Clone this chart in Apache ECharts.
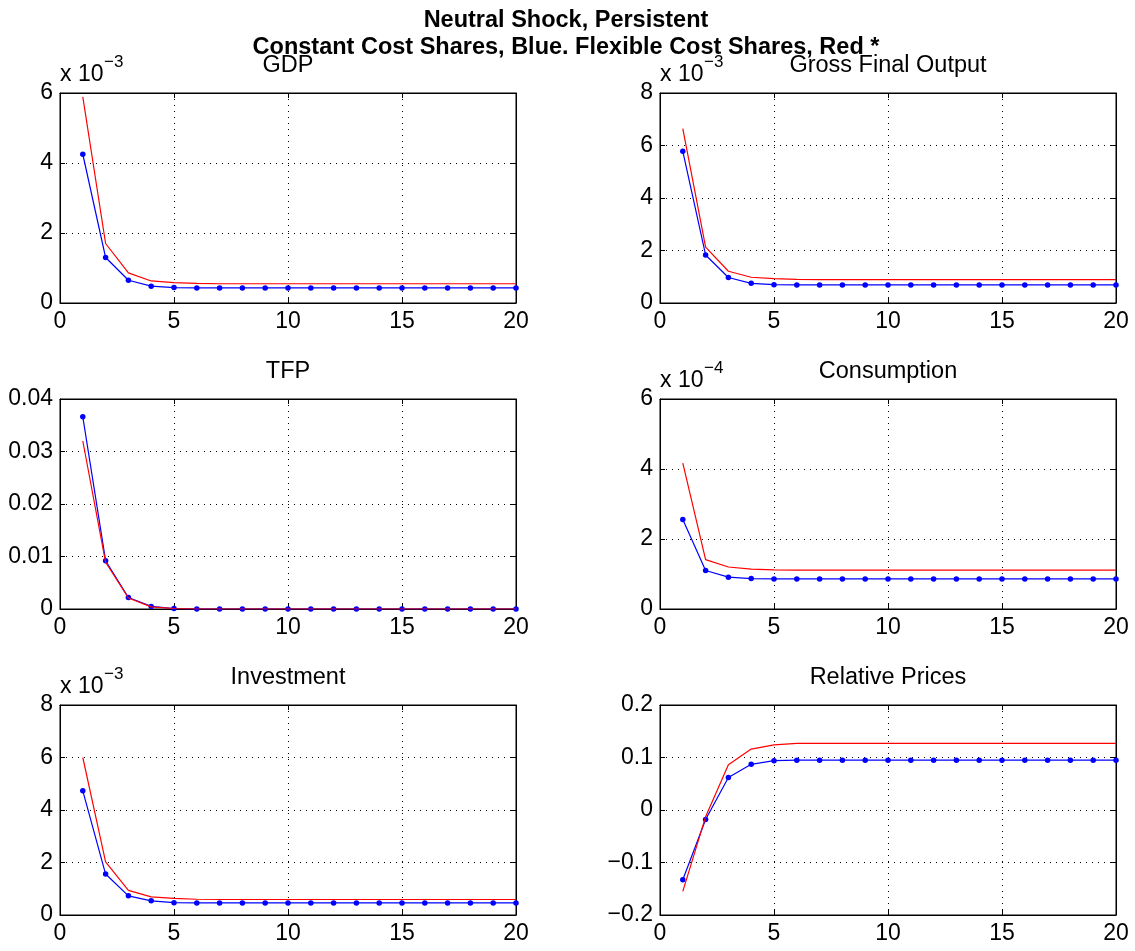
<!DOCTYPE html>
<html>
<head>
<meta charset="utf-8">
<script src="https://cdn.jsdelivr.net/npm/echarts@6/dist/echarts.min.js"></script>
<style>
  html, body { margin: 0; padding: 0; background: #fff; }
  #chart { width: 1135px; height: 951px; }
</style>
</head>
<body>
<div id="chart"></div>
<script>
// Impulse responses over 20 periods: constant cost shares (blue) vs flexible cost shares (red)
const periods = [1, 2, 3, 4, 5, 6, 7, 8, 9, 10, 11, 12, 13, 14, 15, 16, 17, 18, 19, 20];

// GDP, in units of 10^-3
const gdpConstant = [4.25, 1.30, 0.65, 0.48, 0.44, 0.43, 0.43, 0.43, 0.43, 0.43, 0.43, 0.43, 0.43, 0.43, 0.43, 0.43, 0.43, 0.43, 0.43, 0.43];
const gdpFlexible = [5.89, 1.70, 0.86, 0.63, 0.58, 0.56, 0.55, 0.55, 0.55, 0.55, 0.55, 0.55, 0.55, 0.55, 0.55, 0.55, 0.55, 0.55, 0.55, 0.55];

// Gross final output, in units of 10^-3
const gfoConstant = [5.78, 1.83, 0.97, 0.75, 0.70, 0.69, 0.69, 0.69, 0.69, 0.69, 0.69, 0.69, 0.69, 0.69, 0.69, 0.69, 0.69, 0.69, 0.69, 0.69];
const gfoFlexible = [6.64, 2.13, 1.21, 0.98, 0.93, 0.90, 0.89, 0.89, 0.89, 0.89, 0.89, 0.89, 0.89, 0.89, 0.89, 0.89, 0.89, 0.89, 0.89, 0.89];

// TFP
const tfpConstant = [0.0366, 0.0092, 0.0022, 0.0005, 0.0001, 0, 0, 0, 0, 0, 0, 0, 0, 0, 0, 0, 0, 0, 0, 0];
const tfpFlexible = [0.0320, 0.0089, 0.0021, 0.0004, 0.0001, 0, 0, 0, 0, 0, 0, 0, 0, 0, 0, 0, 0, 0, 0, 0];

// Consumption, in units of 10^-4
const consConstant = [2.56, 1.10, 0.91, 0.87, 0.86, 0.86, 0.86, 0.86, 0.86, 0.86, 0.86, 0.86, 0.86, 0.86, 0.86, 0.86, 0.86, 0.86, 0.86, 0.86];
const consFlexible = [4.17, 1.41, 1.20, 1.14, 1.12, 1.11, 1.11, 1.11, 1.11, 1.11, 1.11, 1.11, 1.11, 1.11, 1.11, 1.11, 1.11, 1.11, 1.11, 1.11];

// Investment, in units of 10^-3
const invConstant = [4.73, 1.56, 0.73, 0.54, 0.47, 0.46, 0.46, 0.46, 0.46, 0.46, 0.46, 0.46, 0.46, 0.46, 0.46, 0.46, 0.46, 0.46, 0.46, 0.46];
const invFlexible = [6.00, 2.02, 0.94, 0.69, 0.63, 0.60, 0.59, 0.59, 0.59, 0.59, 0.59, 0.59, 0.59, 0.59, 0.59, 0.59, 0.59, 0.59, 0.59, 0.59];

// Relative prices
const priceConstant = [-0.133, -0.018, 0.062, 0.087, 0.094, 0.095, 0.095, 0.095, 0.095, 0.095, 0.095, 0.095, 0.095, 0.095, 0.095, 0.095, 0.095, 0.095, 0.095, 0.095];
const priceFlexible = [-0.155, -0.013, 0.086, 0.116, 0.124, 0.127, 0.127, 0.127, 0.127, 0.127, 0.127, 0.127, 0.127, 0.127, 0.127, 0.127, 0.127, 0.127, 0.127, 0.127];

// Axis settings per panel
const panelTitles = ['GDP', 'Gross Final Output', 'TFP', 'Consumption', 'Investment', 'Relative Prices'];
const panelExponents = ['\u22123', '\u22123', null, '\u22124', '\u22123', null];
const yMins = [0, 0, 0, 0, 0, -0.2];
const yMaxs = [6, 8, 0.04, 6, 8, 0.2];
const yIntervals = [2, 2, 0.01, 2, 2, 0.1];
const xMin = 0, xMax = 20, xInterval = 5;

const constantSeries = [gdpConstant, gfoConstant, tfpConstant, consConstant, invConstant, priceConstant];
const flexibleSeries = [gdpFlexible, gfoFlexible, tfpFlexible, consFlexible, invFlexible, priceFlexible];

// Layout of the 3x2 panel grid
const FONT = '"Liberation Sans", Arial, Helvetica, sans-serif';
const TICK_SIZE = 23;
const TITLE_SIZE = 23.5;
const colLeft = [60, 660];
const rowTop = [93, 399, 705];
const boxW = 456, boxH = 210;

const grids = [], xAxes = [], yAxes = [], series = [], graphics = [];
const minusFmt = v => {
  const r = Math.round(v * 10000) / 10000;
  return String(r).replace('-', '\u2212');
};

panelTitles.forEach((title, i) => {
  const left = colLeft[i % 2];
  const top = rowTop[Math.floor(i / 2)];
  grids.push({ left: left, top: top, width: boxW, height: boxH, show: true,
               borderColor: '#000', borderWidth: 1, backgroundColor: '#fff', containLabel: false });

  const tick = { show: true, inside: true, length: 5, lineStyle: { color: '#000', width: 1 } };
  const grid = { show: true, lineStyle: { color: '#000', width: 1, type: [1, 5] } };

  xAxes.push({
    gridIndex: i, type: 'value', position: 'bottom', min: xMin, max: xMax, interval: xInterval,
    axisLine: { show: true, onZero: false, lineStyle: { color: '#000', width: 1 } },
    axisTick: tick,
    axisLabel: { color: '#000', fontSize: TICK_SIZE, fontFamily: FONT, margin: 7 },
    splitLine: grid
  });
  xAxes.push({
    gridIndex: i, type: 'value', position: 'top', min: xMin, max: xMax, interval: xInterval,
    axisLine: { show: true, onZero: false, lineStyle: { color: '#000', width: 1 } },
    axisTick: tick, axisLabel: { show: false }, splitLine: { show: false }
  });
  yAxes.push({
    gridIndex: i, type: 'value', position: 'left', min: yMins[i], max: yMaxs[i], interval: yIntervals[i],
    axisLine: { show: true, onZero: false, lineStyle: { color: '#000', width: 1 } },
    axisTick: tick,
    axisLabel: { color: '#000', fontSize: TICK_SIZE, fontFamily: FONT, margin: 7, formatter: minusFmt },
    splitLine: grid
  });
  yAxes.push({
    gridIndex: i, type: 'value', position: 'right', min: yMins[i], max: yMaxs[i], interval: yIntervals[i],
    axisLine: { show: true, onZero: false, lineStyle: { color: '#000', width: 1 } },
    axisTick: tick, axisLabel: { show: false }, splitLine: { show: false }
  });

  series.push({
    type: 'line', xAxisIndex: 2 * i, yAxisIndex: 2 * i,
    data: periods.map((p, k) => [p, constantSeries[i][k]]),
    symbol: 'circle', symbolSize: 5.5, showSymbol: true,
    itemStyle: { color: '#0000ff' },
    lineStyle: { color: '#0000ff', width: 1.2 },
    z: 3
  });
  series.push({
    type: 'line', xAxisIndex: 2 * i, yAxisIndex: 2 * i,
    data: periods.map((p, k) => [p, flexibleSeries[i][k]]),
    symbol: 'none',
    lineStyle: { color: '#ff0000', width: 1.2 },
    z: 4
  });

  // panel title
  graphics.push({ type: 'text', x: left + boxW / 2, y: top - 27, z: 10,
    style: { text: title, font: TITLE_SIZE + 'px ' + FONT, fill: '#000', align: 'center', verticalAlign: 'middle' } });

  // scale factor above the y axis
  if (panelExponents[i]) {
    graphics.push({ type: 'text', x: left, y: top - 18, z: 10,
      style: { text: 'x 10', font: TICK_SIZE + 'px ' + FONT, fill: '#000', align: 'left', verticalAlign: 'middle' } });
    graphics.push({ type: 'text', x: left + 44, y: top - 31, z: 10,
      style: { text: panelExponents[i], font: '17px ' + FONT, fill: '#000', align: 'left', verticalAlign: 'middle' } });
  }
});

// Figure heading
graphics.push({ type: 'text', x: 566, y: 21, z: 11,
  style: { text: 'Neutral Shock, Persistent', font: 'bold ' + TITLE_SIZE + 'px ' + FONT, fill: '#000', align: 'center', verticalAlign: 'middle' } });
graphics.push({ type: 'text', x: 566, y: 48, z: 11,
  style: { text: 'Constant Cost Shares, Blue. Flexible Cost Shares, Red *', font: 'bold ' + TITLE_SIZE + 'px ' + FONT, fill: '#000', align: 'center', verticalAlign: 'middle' } });

const chart = echarts.init(document.getElementById('chart'), null, { renderer: 'canvas' });
chart.setOption({
  backgroundColor: '#fff',
  animation: false,
  grid: grids,
  xAxis: xAxes,
  yAxis: yAxes,
  series: series,
  graphic: graphics
});
</script>
</body>
</html>
